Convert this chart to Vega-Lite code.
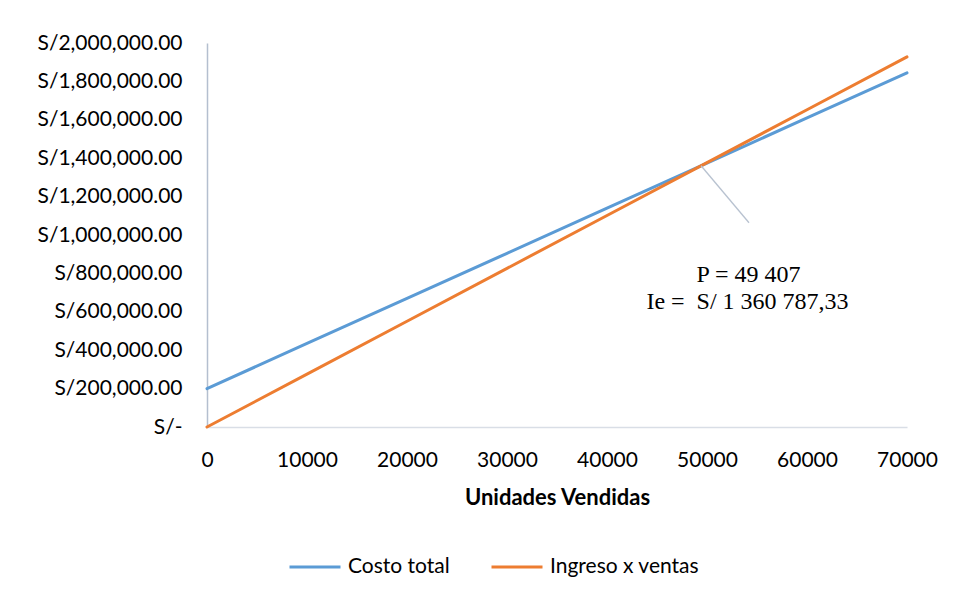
{
  "$schema": "https://vega.github.io/schema/vega-lite/v6.json",
  "width": 700,
  "height": 384,
  "autosize": {"type": "none"},
  "padding": {"left": 207, "top": 43, "right": 48, "bottom": 169},
  "background": "white",
  "datasets": {
    "lines": [
      {"unidades": 0, "monto": 200000, "serie": "Costo total"},
      {"unidades": 10000, "monto": 434940, "serie": "Costo total"},
      {"unidades": 20000, "monto": 669880, "serie": "Costo total"},
      {"unidades": 30000, "monto": 904820, "serie": "Costo total"},
      {"unidades": 40000, "monto": 1139760, "serie": "Costo total"},
      {"unidades": 50000, "monto": 1374700, "serie": "Costo total"},
      {"unidades": 60000, "monto": 1609640, "serie": "Costo total"},
      {"unidades": 70000, "monto": 1844580, "serie": "Costo total"},
      {"unidades": 0, "monto": 0, "serie": "Ingreso x ventas"},
      {"unidades": 10000, "monto": 275420, "serie": "Ingreso x ventas"},
      {"unidades": 20000, "monto": 550840, "serie": "Ingreso x ventas"},
      {"unidades": 30000, "monto": 826260, "serie": "Ingreso x ventas"},
      {"unidades": 40000, "monto": 1101680, "serie": "Ingreso x ventas"},
      {"unidades": 50000, "monto": 1377100, "serie": "Ingreso x ventas"},
      {"unidades": 60000, "monto": 1652520, "serie": "Ingreso x ventas"},
      {"unidades": 70000, "monto": 1927940, "serie": "Ingreso x ventas"}
    ],
    "leader": [
      {"unidades": 49407, "monto": 1360787.33, "unidades2": 54200, "monto2": 1064000}
    ],
    "notes": [
      {"unidades": 54150, "monto": 791700, "label": "P = 49 407"},
      {"unidades": 54050, "monto": 651000, "label": "Ie = \u00a0S/ 1 360 787,33"}
    ]
  },
  "encoding": {
    "x": {
      "field": "unidades",
      "type": "quantitative",
      "scale": {"domain": [0, 70000], "nice": false},
      "axis": {
        "title": "Unidades Vendidas",
        "values": [0, 10000, 20000, 30000, 40000, 50000, 60000, 70000],
        "format": "d",
        "grid": false,
        "ticks": false,
        "labelFlush": false,
        "labelOverlap": false,
        "domainColor": "#d9dee6",
        "domainWidth": 1.5,
        "labelPadding": 22,
        "titlePadding": 17
      }
    },
    "y": {
      "field": "monto",
      "type": "quantitative",
      "scale": {"domain": [0, 2000000], "nice": false},
      "axis": {
        "title": null,
        "values": [0, 200000, 400000, 600000, 800000, 1000000, 1200000, 1400000, 1600000, 1800000, 2000000],
        "labelExpr": "datum.value == 0 ? 'S/-\u00a0\u00a0' : 'S/' + format(datum.value, ',.2f')",
        "grid": false,
        "ticks": false,
        "labelFlush": false,
        "labelOverlap": false,
        "domainColor": "#b4bfcf",
        "domainWidth": 1.5,
        "labelPadding": 25
      }
    }
  },
  "layer": [
    {
      "data": {"name": "lines"},
      "mark": {"type": "line", "strokeWidth": 3, "strokeCap": "round"},
      "encoding": {
        "color": {
          "field": "serie",
          "type": "nominal",
          "scale": {"domain": ["Costo total", "Ingreso x ventas"], "range": ["#5b9bd5", "#ed7d31"]},
          "legend": {
            "title": null,
            "orient": "none",
            "direction": "horizontal",
            "legendX": 81,
            "legendY": 497,
            "symbolType": "stroke",
            "symbolSize": 2601,
            "symbolStrokeWidth": 3,
            "labelOffset": 6,
            "columnPadding": 35
          }
        }
      }
    },
    {
      "data": {"name": "leader"},
      "mark": {"type": "rule", "color": "#b8c2d0", "strokeWidth": 1.3},
      "encoding": {
        "x2": {"field": "unidades2"},
        "y2": {"field": "monto2"}
      }
    },
    {
      "data": {"name": "notes"},
      "mark": {
        "type": "text",
        "font": "Liberation Serif",
        "fontSize": 24,
        "align": "center",
        "baseline": "middle",
        "color": "black"
      },
      "encoding": {
        "text": {"field": "label"}
      }
    }
  ],
  "config": {
    "view": {"stroke": null},
    "font": "Lato",
    "axis": {
      "labelFont": "Lato",
      "labelFontSize": 21,
      "labelColor": "#000000",
      "labelOverlap": false,
      "titleFont": "Lato",
      "titleFontSize": 22,
      "titleFontWeight": "bold",
      "titleColor": "#000000"
    },
    "legend": {
      "labelFont": "Lato",
      "labelFontSize": 21,
      "labelColor": "#000000"
    }
  }
}
